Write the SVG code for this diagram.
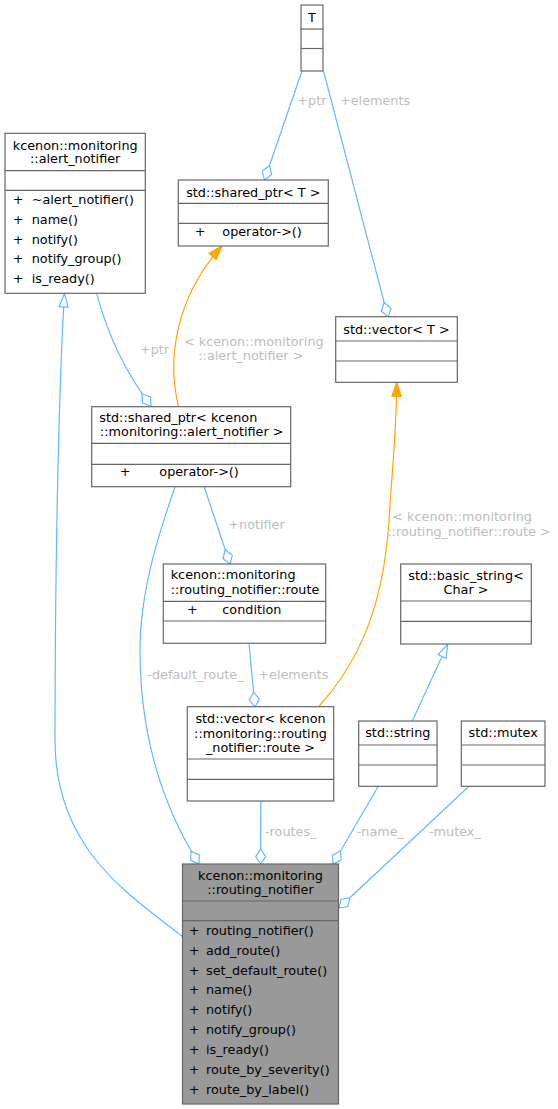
<svg xmlns="http://www.w3.org/2000/svg" width="558" height="1109" viewBox="0 0 558 1109">
<style>
text{font-family:"DejaVu Sans","Liberation Sans",sans-serif;font-size:12.8px;fill:#000}
.m{text-anchor:middle}
.box{fill:#fff;stroke:#666;stroke-width:1.2}
.cur{fill:#999;stroke:#666;stroke-width:1.2}
.div{stroke:#666;stroke-width:1.2}
.e{fill:none;stroke:#63b8ff;stroke-width:1.2}
.o{fill:none;stroke:#ffa500;stroke-width:1.2}
.lbl{fill:#bdbdbd}
</style>
<defs>
<marker id="dia" markerUnits="userSpaceOnUse" markerWidth="17" markerHeight="13" refX="15" refY="6" orient="auto" overflow="visible">
<path d="M0,6 L7.5,1 L15,6 L7.5,11 z" fill="#fff" stroke="#63b8ff" stroke-width="1.2"/>
</marker>
<marker id="inh" markerUnits="userSpaceOnUse" markerWidth="15" markerHeight="11" refX="13.4" refY="5.5" orient="auto" overflow="visible">
<path d="M0,1 L13.4,5.5 L0,10 z" fill="#fff" stroke="#63b8ff" stroke-width="1.2"/>
</marker>
<marker id="tpl" markerUnits="userSpaceOnUse" markerWidth="15" markerHeight="12" refX="14" refY="5.7" orient="auto" overflow="visible">
<path d="M0,1 L14,5.7 L0,10.4 z" fill="#ffa500" stroke="#ffa500" stroke-width="1.2"/>
</marker>
</defs>
<g id="connectors">
<path class="e" d="M302,71 L264.5,180" marker-end="url(#dia)"/>
<text class="lbl" x="297.3" y="105">+ptr</text>
<path class="e" d="M323.5,71 L388,317" marker-end="url(#dia)"/>
<text class="lbl" x="340" y="105">+elements</text>
<path class="e" d="M96.7,293.3 C105,325 120,365 151,406" marker-end="url(#dia)"/>
<text class="lbl" x="140" y="354">+ptr</text>
<path class="e" d="M183,937 C130,895 55,850 55,740 C55,560 59,380 64.5,293.5" marker-end="url(#inh)"/>
<path class="o" d="M178.5,406.5 C166,355 178,295 222,246" marker-end="url(#tpl)"/>
<text class="lbl" x="184" y="346">&lt; kcenon::monitoring</text>
<text class="lbl" x="198.3" y="360">::alert_notifier &gt;</text>
<path class="e" d="M204.3,487 L230,564" marker-end="url(#dia)"/>
<text class="lbl" x="228.3" y="528.5">+notifier</text>
<path class="o" d="M318.5,707 C350,672 383,620 389,520 C392,470 396.7,430 396.7,382.3" marker-end="url(#tpl)"/>
<text class="lbl" x="392.3" y="521">&lt; kcenon::monitoring</text>
<text class="lbl" x="387.3" y="535.5">::routing_notifier::route &gt;</text>
<path class="e" d="M249,643.5 L255,707" marker-end="url(#dia)"/>
<text class="lbl" x="258.3" y="678.5">+elements</text>
<path class="e" d="M175,487 C160,530 140,590 140,650 C140,740 165,810 199,864" marker-end="url(#dia)"/>
<text class="lbl" x="147.3" y="678.5">-default_route_</text>
<path class="e" d="M260.7,801 L260.7,864" marker-end="url(#dia)"/>
<text class="lbl" x="265" y="836">-routes_</text>
<path class="e" d="M412.3,721 L447.7,644.3" marker-end="url(#inh)"/>
<path class="e" d="M378.3,786.3 L333,864" marker-end="url(#dia)"/>
<text class="lbl" x="356.7" y="836">-name_</text>
<path class="e" d="M469,786.3 L339,908" marker-end="url(#dia)"/>
<text class="lbl" x="429" y="836">-mutex_</text>
</g>
<g id="node-T">
<rect class="box" x="301" y="5" width="22" height="66"/>
<line class="div" x1="301" y1="29" x2="323" y2="29"/>
<line class="div" x1="301" y1="48.5" x2="323" y2="48.5"/>
<text class="m" x="312" y="22">T</text>
</g>
<g id="node-alert_notifier">
<rect class="box" x="5" y="133.3" width="140.3" height="160"/>
<line class="div" x1="5" y1="170.7" x2="145.3" y2="170.7"/>
<line class="div" x1="5" y1="190.3" x2="145.3" y2="190.3"/>
<text class="m" x="75.2" y="149.7">kcenon::monitoring</text>
<text class="m" x="75.2" y="163.3">::alert_notifier</text>
<text class="m" x="18" y="204">+</text><text x="31.7" y="204">~alert_notifier()</text>
<text class="m" x="18" y="224">+</text><text x="31.7" y="224">name()</text>
<text class="m" x="18" y="243.7">+</text><text x="31.7" y="243.7">notify()</text>
<text class="m" x="18" y="263.3">+</text><text x="31.7" y="263.3">notify_group()</text>
<text class="m" x="18" y="283">+</text><text x="31.7" y="283">is_ready()</text>
</g>
<g id="node-shared_ptr_T">
<rect class="box" x="178.3" y="180" width="150" height="66"/>
<line class="div" x1="178.3" y1="203.3" x2="328.3" y2="203.3"/>
<line class="div" x1="178.3" y1="223.3" x2="328.3" y2="223.3"/>
<text class="m" x="253.3" y="196.7">std::shared_ptr&lt; T &gt;</text>
<text class="m" x="200" y="236.3">+</text><text x="222.3" y="236.3">operator-&gt;()</text>
</g>
<g id="node-vector_T">
<rect class="box" x="335.7" y="316.7" width="121.6" height="65.6"/>
<line class="div" x1="335.7" y1="341" x2="457.3" y2="341"/>
<line class="div" x1="335.7" y1="361" x2="457.3" y2="361"/>
<text class="m" x="396.5" y="334">std::vector&lt; T &gt;</text>
</g>
<g id="node-shared_ptr_alert">
<rect class="box" x="91.7" y="406.7" width="199" height="80"/>
<line class="div" x1="91.7" y1="443.3" x2="290.7" y2="443.3"/>
<line class="div" x1="91.7" y1="464.3" x2="290.7" y2="464.3"/>
<text x="99.3" y="422.3">std::shared_ptr&lt; kcenon</text>
<text x="100" y="436.3">::monitoring::alert_notifier &gt;</text>
<text class="m" x="125" y="476.3">+</text><text x="159.3" y="476.3">operator-&gt;()</text>
</g>
<g id="node-route">
<rect class="box" x="163.3" y="564" width="162.4" height="79.3"/>
<line class="div" x1="163.3" y1="601.3" x2="325.7" y2="601.3"/>
<line class="div" x1="163.3" y1="621" x2="325.7" y2="621"/>
<text x="170.7" y="579">kcenon::monitoring</text>
<text x="170.7" y="594">::routing_notifier::route</text>
<text class="m" x="192.3" y="614">+</text><text x="222.3" y="614">condition</text>
</g>
<g id="node-basic_string">
<rect class="box" x="400.7" y="564" width="130.6" height="80"/>
<line class="div" x1="400.7" y1="601" x2="531.3" y2="601"/>
<line class="div" x1="400.7" y1="621.3" x2="531.3" y2="621.3"/>
<text class="m" x="466" y="580">std::basic_string&lt;</text>
<text class="m" x="466" y="594">Char &gt;</text>
</g>
<g id="node-vector_route">
<rect class="box" x="187.3" y="706.7" width="146.4" height="94.3"/>
<line class="div" x1="187.3" y1="759" x2="333.7" y2="759"/>
<line class="div" x1="187.3" y1="779.3" x2="333.7" y2="779.3"/>
<text class="m" x="260.5" y="723.3">std::vector&lt; kcenon</text>
<text class="m" x="260.5" y="737.6">::monitoring::routing</text>
<text class="m" x="260.5" y="751.9">_notifier::route &gt;</text>
</g>
<g id="node-string">
<rect class="box" x="358.7" y="721" width="78.3" height="65.3"/>
<line class="div" x1="358.7" y1="745" x2="437" y2="745"/>
<line class="div" x1="358.7" y1="765" x2="437" y2="765"/>
<text class="m" x="397.8" y="737.3">std::string</text>
</g>
<g id="node-mutex">
<rect class="box" x="461.3" y="721" width="83.7" height="65.3"/>
<line class="div" x1="461.3" y1="745" x2="545" y2="745"/>
<line class="div" x1="461.3" y1="765" x2="545" y2="765"/>
<text class="m" x="503.2" y="737.3">std::mutex</text>
</g>
<g id="node-routing_notifier">
<rect class="cur" x="182.5" y="864" width="156" height="240"/>
<line class="div" x1="182.5" y1="901" x2="338.5" y2="901"/>
<line class="div" x1="182.5" y1="920.7" x2="338.5" y2="920.7"/>
<text class="m" x="260.5" y="879.7">kcenon::monitoring</text>
<text class="m" x="260.5" y="894">::routing_notifier</text>
<text class="m" x="194.2" y="934.7">+</text><text x="206" y="934.7">routing_notifier()</text>
<text class="m" x="194.2" y="954.6">+</text><text x="206" y="954.6">add_route()</text>
<text class="m" x="194.2" y="974.5">+</text><text x="206" y="974.5">set_default_route()</text>
<text class="m" x="194.2" y="994.4">+</text><text x="206" y="994.4">name()</text>
<text class="m" x="194.2" y="1014.3">+</text><text x="206" y="1014.3">notify()</text>
<text class="m" x="194.2" y="1034.2">+</text><text x="206" y="1034.2">notify_group()</text>
<text class="m" x="194.2" y="1054.1">+</text><text x="206" y="1054.1">is_ready()</text>
<text class="m" x="194.2" y="1074">+</text><text x="206" y="1074">route_by_severity()</text>
<text class="m" x="194.2" y="1093.9">+</text><text x="206" y="1093.9">route_by_label()</text>
</g>
</svg>
